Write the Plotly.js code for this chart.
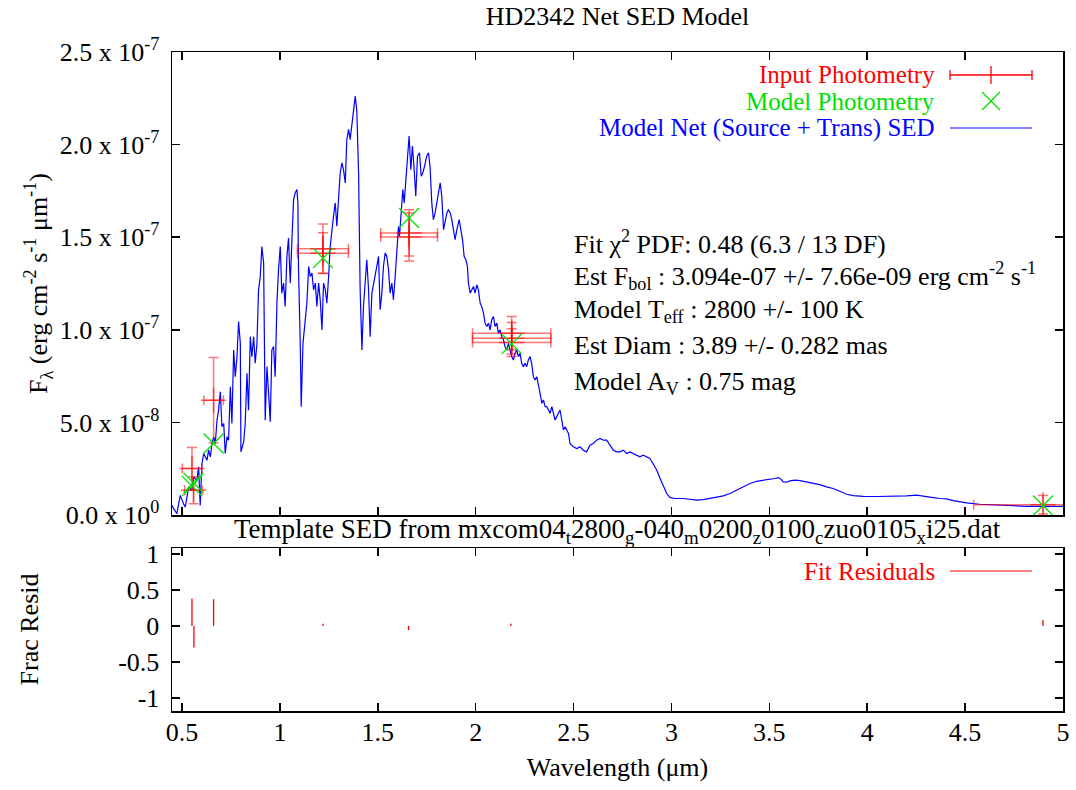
<!DOCTYPE html>
<html>
<head>
<meta charset="utf-8">
<script src="https://cdn.plot.ly/plotly-3.0.1.min.js"></script>
<style>html,body{margin:0;padding:0;background:#fff;}#chart{width:1076px;height:790px;}</style>
</head>
<body>
<div id="chart"></div>
<script>
// ---------- DATA ----------
// Model SED: wavelength (um) and flux (units of 1e-8 erg cm^-2 s^-1 um^-1)
const sedWave = [0.449,0.457,0.474,0.491,0.508,0.517,0.534,0.551,0.559,0.576,0.585,0.593,0.602,0.611,0.628,0.636,0.645,0.653,0.662,0.670,0.679,0.687,0.696,0.704,0.713,0.721,0.730,0.738,0.747,0.755,0.764,0.772,0.781,0.789,0.798,0.801,0.815,0.823,0.832,0.840,0.849,0.857,0.866,0.874,0.883,0.891,0.900,0.908,0.917,0.925,0.934,0.942,0.951,0.959,0.968,0.976,0.985,0.993,1.002,1.010,1.019,1.027,1.036,1.044,1.053,1.061,1.070,1.078,1.087,1.092,1.095,1.104,1.109,1.118,1.129,1.138,1.147,1.155,1.164,1.172,1.181,1.189,1.198,1.206,1.215,1.223,1.232,1.240,1.249,1.257,1.274,1.283,1.291,1.300,1.308,1.317,1.325,1.334,1.342,1.351,1.359,1.368,1.376,1.385,1.393,1.402,1.410,1.419,1.427,1.436,1.444,1.453,1.461,1.470,1.478,1.487,1.495,1.504,1.512,1.521,1.529,1.538,1.546,1.555,1.563,1.572,1.580,1.589,1.597,1.606,1.611,1.618,1.628,1.635,1.643,1.652,1.660,1.669,1.677,1.686,1.694,1.703,1.713,1.722,1.730,1.739,1.750,1.759,1.767,1.776,1.784,1.793,1.802,1.810,1.819,1.827,1.836,1.844,1.853,1.861,1.870,1.878,1.887,1.895,1.904,1.916,1.924,1.933,1.941,1.950,1.958,1.963,1.972,1.980,1.989,1.997,2.006,2.014,2.023,2.031,2.040,2.048,2.057,2.065,2.074,2.082,2.091,2.099,2.108,2.116,2.125,2.133,2.142,2.150,2.159,2.167,2.176,2.184,2.193,2.201,2.210,2.218,2.227,2.235,2.244,2.252,2.261,2.269,2.278,2.286,2.295,2.303,2.312,2.320,2.329,2.338,2.346,2.355,2.363,2.372,2.380,2.389,2.397,2.406,2.414,2.423,2.431,2.440,2.448,2.457,2.465,2.474,2.482,2.491,2.499,2.516,2.533,2.550,2.567,2.584,2.601,2.618,2.635,2.652,2.669,2.686,2.703,2.720,2.737,2.754,2.771,2.788,2.805,2.822,2.839,2.856,2.873,2.890,2.908,2.925,2.942,2.959,2.976,2.993,3.018,3.061,3.095,3.129,3.163,3.197,3.231,3.265,3.299,3.333,3.367,3.401,3.435,3.469,3.503,3.529,3.546,3.558,3.571,3.588,3.605,3.631,3.656,3.690,3.724,3.758,3.792,3.826,3.860,3.895,3.929,3.980,4.048,4.133,4.201,4.252,4.286,4.303,4.337,4.371,4.405,4.439,4.473,4.507,4.575,4.643,4.728,4.813,4.898,4.984,5.000];
const sedFlux = [0.52,0.34,0.07,1.06,0.61,0.43,1.52,1.34,2.06,1.88,2.60,0.52,2.78,3.32,2.96,3.50,3.14,3.86,4.22,3.86,5.12,5.66,6.66,4.76,4.94,3.32,4.22,4.04,6.93,4.94,8.91,7.47,8.55,10.44,9.27,3.41,3.95,4.94,7.65,5.66,9.63,8.55,9.63,8.19,9.27,12.16,12.88,14.50,13.60,5.12,8.01,6.75,5.03,8.91,9.09,7.47,11.44,13.24,14.50,11.98,12.52,11.26,13.96,14.95,12.52,14.68,17.03,17.39,17.57,16.85,13.42,9.27,5.84,9.27,10.53,11.44,13.42,12.88,13.06,12.16,12.52,11.26,12.52,11.62,9.99,12.52,12.16,11.44,12.88,14.50,16.13,16.85,15.59,17.03,18.47,19.01,18.65,17.93,20.27,20.82,20.27,21.09,21.72,22.62,21.81,18.47,12.16,8.91,11.26,12.52,13.78,12.16,9.63,11.98,12.52,12.88,13.42,13.96,11.08,11.98,13.42,14.15,13.97,13.24,11.98,12.52,11.62,12.88,14.51,15.59,15.05,16.31,17.57,16.85,17.93,19.01,20.46,18.65,19.92,18.65,17.21,19.38,19.56,18.29,18.47,18.83,19.38,19.56,18.83,16.85,15.95,16.31,17.03,17.39,17.93,17.21,15.41,15.95,16.31,16.49,16.31,15.95,15.41,14.87,15.41,15.95,15.41,14.87,13.97,13.78,13.42,12.52,11.98,12.16,12.34,11.98,12.43,12.16,11.44,11.26,10.90,10.36,10.18,10.36,10.00,10.54,10.72,10.18,10.36,9.82,10.00,9.64,9.46,9.09,8.91,9.27,8.91,8.55,8.37,8.73,8.91,8.55,8.73,8.19,8.01,8.19,8.01,8.37,8.55,8.19,7.47,7.29,7.47,6.93,6.57,6.03,6.21,5.85,5.85,5.67,5.49,5.85,5.49,5.13,5.31,5.49,5.67,5.13,4.59,4.77,4.59,4.40,3.86,3.77,3.68,3.59,3.68,3.50,3.41,3.77,3.86,4.04,4.13,4.04,4.04,3.77,3.50,3.41,3.41,3.50,3.32,3.41,3.32,3.23,3.14,3.23,3.14,3.05,2.74,2.42,1.97,1.52,1.16,0.94,0.89,0.89,0.85,0.80,0.83,0.89,0.94,1.03,1.16,1.34,1.55,1.70,1.82,1.88,1.90,1.97,2.02,1.95,1.79,1.77,1.84,1.88,1.86,1.79,1.72,1.64,1.52,1.43,1.28,1.12,1.05,1.01,1.00,1.01,1.03,1.07,1.01,0.96,0.94,0.89,0.87,0.78,0.72,0.65,0.58,0.54,0.51,0.47,0.47,0.47,0.47];

// Input photometry (flux in 1e-8 units), half band widths and flux errors
const photWave  = [0.551, 0.559, 0.6615, 1.220, 1.220, 1.660, 1.660, 2.184, 2.184, 2.184, 4.898];
const photFlux  = [2.51, 1.34, 6.20, 14.38, 14.14, 15.23, 15.01, 9.82, 9.54, 9.31, 0.55];
const photErr   = [1.13, 0.73, 2.30, 1.33, 1.10, 1.25, 1.30, 0.90, 0.85, 0.75, 0.50];
const photHalfBW= [0.050, 0.045, 0.050, 0.130, 0.130, 0.145, 0.145, 0.200, 0.200, 0.200, 0.354];

// Model photometry
const modWave = [0.551, 0.559, 0.6615, 1.220, 1.660, 2.184, 4.898];
const modFlux = [1.56, 1.74, 3.86, 13.87, 16.04, 9.24, 0.51];

// Fractional residuals
const resWave = [0.551, 0.561, 0.6615, 1.220, 1.657, 2.180, 4.898];
const resVal  = [0.38, -0.30, 0.37, 0.03, -0.06, 0.03, 0.08];

// Axis ticks
const yTickVals = [0, 5e-8, 1e-7, 1.5e-7, 2e-7, 2.5e-7];
const yTickText = ['0.0 x 10<sup>0</sup>','5.0 x 10<sup>-8</sup>','1.0 x 10<sup>-7</sup>','1.5 x 10<sup>-7</sup>','2.0 x 10<sup>-7</sup>','2.5 x 10<sup>-7</sup>'];
const resTickVals = [-1, -0.5, 0, 0.5, 1];
const resTickText = ['-1', '-0.5', '0', '0.5', '1'];
const statLines = [
  'Fit \u03C7<sup>2</sup> PDF: 0.48 (6.3 / 13 DF)',
  'Est F<sub>bol</sub> : 3.094e-07 +/- 7.66e-09 erg cm<sup>-2</sup> s<sup>-1</sup>',
  'Model T<sub>eff</sub> : 2800 +/- 100 K',
  'Est Diam : 3.89 +/- 0.282 mas',
  'Model A<sub>V</sub> : 0.75 mag'
];

// ---------- BUILD ----------
const SC = 1e-8;
const FONT = 'Liberation Serif, Times New Roman, serif';
const FS = 26;
const RED = '#ff0000', GREEN = '#00e000', BLUE = '#0000ff';

const sedTrace = {
  x: sedWave, y: sedFlux.map(v => v * SC), type: 'scatter', mode: 'lines',
  line: {color: BLUE, width: 1.2}, xaxis: 'x', yaxis: 'y', hoverinfo: 'skip', showlegend: false
};
const photTrace = {
  x: photWave, y: photFlux.map(v => v * SC), type: 'scatter', mode: 'markers',
  marker: {symbol: 'cross-thin-open', size: 18, color: 'rgba(255,0,0,0.6)', line: {color: 'rgba(255,0,0,0.6)', width: 1.5}},
  error_x: {type: 'data', array: photHalfBW, visible: true, color: 'rgba(255,0,0,0.55)', thickness: 1.5, width: 5},
  error_y: {type: 'data', array: photErr.map(v => v * SC), visible: true, color: 'rgba(255,0,0,0.55)', thickness: 1.5, width: 5},
  xaxis: 'x', yaxis: 'y', hoverinfo: 'skip', showlegend: false
};
const modTrace = {
  x: modWave, y: modFlux.map(v => v * SC), type: 'scatter', mode: 'markers',
  marker: {symbol: 'x-thin-open', size: 20, color: GREEN, line: {color: GREEN, width: 1.3}},
  xaxis: 'x', yaxis: 'y', hoverinfo: 'skip', showlegend: false
};
// residual impulses
const rx = [], ry = [];
resWave.forEach((w, i) => { rx.push(w, w, null); ry.push(0, resVal[i], null); });
const resTrace = {
  x: rx, y: ry, type: 'scatter', mode: 'lines', line: {color: RED, width: 1.3},
  xaxis: 'x2', yaxis: 'y2', hoverinfo: 'skip', showlegend: false, connectgaps: false
};

// plot area in pixels: x 172..1063, y 52..711
const L = 172, R = 1063, T = 52, B = 711;
const px = v => (v - L) / (R - L);
const py = v => (B - v) / (B - T);

const axBase = {
  showline: true, linecolor: '#000', linewidth: 1.5, mirror: 'ticks', ticks: 'inside',
  ticklen: 8, tickwidth: 1.5, tickcolor: '#000', showgrid: false, zeroline: false,
  tickfont: {family: FONT, size: FS, color: '#000'}
};

const shapes = [];
const annotations = [];
// Legend samples
const legX0 = px(950), legX1 = px(1032), legXc = px(991);
const legTextX = px(937);
const lg1 = py(75), lg2 = py(101), lg3 = py(128), lgR = py(571);
const dyCap = 5 / (B - T), dyPlus = 9 / (B - T), dxX = 9 / (R - L), dyX = 9 / (B - T);
shapes.push({type:'line', xref:'paper', yref:'paper', x0:legX0, x1:legX1, y0:lg1, y1:lg1, line:{color:RED, width:1.3}});
shapes.push({type:'line', xref:'paper', yref:'paper', x0:legX0, x1:legX0, y0:lg1-dyCap, y1:lg1+dyCap, line:{color:RED, width:1.3}});
shapes.push({type:'line', xref:'paper', yref:'paper', x0:legX1, x1:legX1, y0:lg1-dyCap, y1:lg1+dyCap, line:{color:RED, width:1.3}});
shapes.push({type:'line', xref:'paper', yref:'paper', x0:legXc, x1:legXc, y0:lg1-dyPlus, y1:lg1+dyPlus, line:{color:RED, width:1.3}});
shapes.push({type:'line', xref:'paper', yref:'paper', x0:legXc-dxX, x1:legXc+dxX, y0:lg2-dyX, y1:lg2+dyX, line:{color:GREEN, width:1.3}});
shapes.push({type:'line', xref:'paper', yref:'paper', x0:legXc-dxX, x1:legXc+dxX, y0:lg2+dyX, y1:lg2-dyX, line:{color:GREEN, width:1.3}});
shapes.push({type:'line', xref:'paper', yref:'paper', x0:legX0, x1:legX1, y0:lg3, y1:lg3, line:{color:BLUE, width:1.2}});
shapes.push({type:'line', xref:'paper', yref:'paper', x0:legX0, x1:legX1, y0:lgR, y1:lgR, line:{color:RED, width:1.2}});

const legFont = c => ({family: FONT, size: 25, color: c});
annotations.push({xref:'paper', yref:'paper', x:legTextX, y:lg1, xanchor:'right', yanchor:'middle', text:'Input Photometry', showarrow:false, font:legFont(RED)});
annotations.push({xref:'paper', yref:'paper', x:legTextX, y:lg2, xanchor:'right', yanchor:'middle', text:'Model Photometry', showarrow:false, font:legFont(GREEN)});
annotations.push({xref:'paper', yref:'paper', x:legTextX, y:lg3, xanchor:'right', yanchor:'middle', text:'Model Net (Source + Trans) SED', showarrow:false, font:legFont(BLUE)});
annotations.push({xref:'paper', yref:'paper', x:legTextX, y:lgR, xanchor:'right', yanchor:'middle', text:'Fit Residuals', showarrow:false, font:legFont(RED)});

// statistics block
const statY = [242, 276, 311, 346, 383];
statLines.forEach((t, i) => {
  annotations.push({xref:'paper', yref:'paper', x:px(572), y:py(statY[i]), xanchor:'left', yanchor:'middle', text:t, showarrow:false, font:{family:FONT, size:FS, color:'#000'}});
});
// lower panel title
annotations.push({xref:'paper', yref:'paper', x:0.5, y:py(531), xanchor:'center', yanchor:'middle',
  text:'Template SED from mxcom04<sub>t</sub>2800<sub>g</sub>-040<sub>m</sub>0200<sub>z</sub>0100<sub>c</sub>zuo0105<sub>x</sub>i25.dat',
  showarrow:false, font:{family:FONT, size:27, color:'#000'}});

const layout = {
  width: 1076, height: 790,
  margin: {l: L, r: 1076 - R, t: T, b: 790 - B},
  paper_bgcolor: '#fff', plot_bgcolor: '#fff',
  showlegend: false,
  title: {text: 'HD2342 Net SED Model', x: 0.5, xref: 'paper', y: 1 - 16/790, yref: 'container', yanchor: 'middle',
          font: {family: FONT, size: FS, color: '#000'}},
  xaxis: Object.assign({}, axBase, {domain: [0, 1], range: [0.449, 5.0], anchor: 'y', tick0: 0.5, dtick: 0.5, showticklabels: false}),
  yaxis: Object.assign({}, axBase, {domain: [py(515), 1], range: [0, 2.5e-7], anchor: 'x',
          tickmode: 'array', tickvals: yTickVals, ticktext: yTickText, ticklabelstandoff: 6,
          title: {text: 'F<sub>\u03BB</sub> (erg cm<sup>-2</sup> s<sup>-1</sup> \u03BCm<sup>-1</sup>)', standoff: 4, font: {family: FONT, size: FS, color: '#000'}}}),
  xaxis2: Object.assign({}, axBase, {domain: [0, 1], range: [0.449, 5.0], anchor: 'y2', tick0: 0.5, dtick: 0.5, matches: 'x',
          ticklabelstandoff: -3,
          title: {text: 'Wavelength (\u03BCm)', standoff: 12, font: {family: FONT, size: FS, color: '#000'}}}),
  yaxis2: Object.assign({}, axBase, {domain: [0, py(548)], range: [-1.18, 1.08], anchor: 'x2',
          tickmode: 'array', tickvals: resTickVals, ticktext: resTickText, ticklabelstandoff: 6,
          title: {text: 'Frac Resid', standoff: 72, font: {family: FONT, size: FS, color: '#000'}}}),
  shapes: shapes,
  annotations: annotations
};

Plotly.newPlot('chart', [sedTrace, photTrace, modTrace, resTrace], layout, {displayModeBar: false, staticPlot: true});
</script>
</body>
</html>
